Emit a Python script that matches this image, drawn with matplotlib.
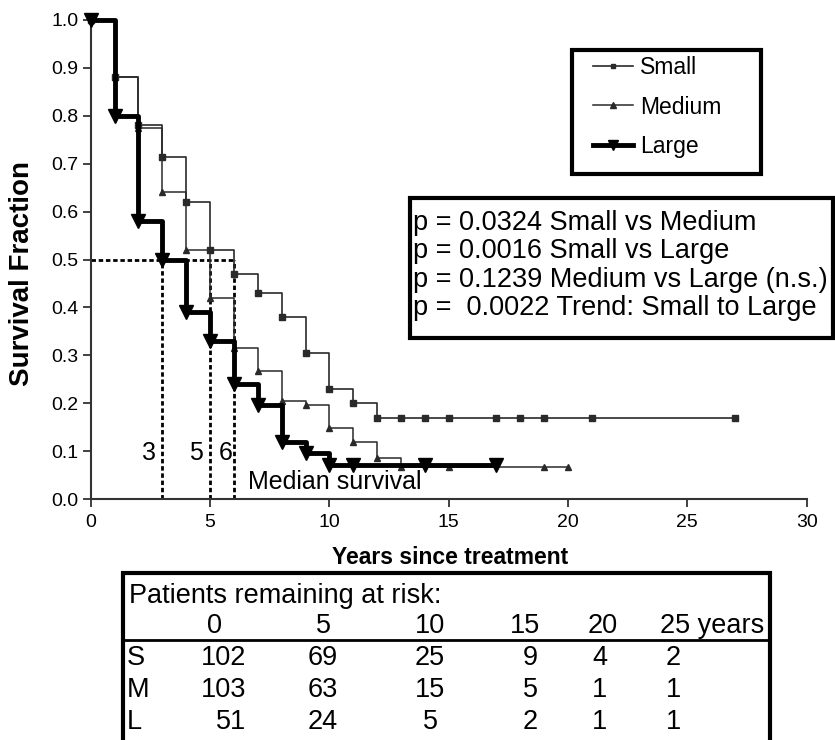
import matplotlib
matplotlib.use("Agg")
import matplotlib.pyplot as plt
from matplotlib.lines import Line2D
from matplotlib.patches import Rectangle

plt.rcParams['font.family'] = ['Liberation Sans', 'DejaVu Sans']

# ---- data ----
small_t = [0, 1, 2, 3, 4, 5, 6, 7, 8, 9, 10, 11, 12, 13, 14, 15, 17, 18, 19, 21, 27]
small_s = [1.0, 0.88, 0.78, 0.715, 0.62, 0.52, 0.47, 0.43, 0.38, 0.305, 0.23, 0.20, 0.17,
           0.17, 0.17, 0.17, 0.17, 0.17, 0.17, 0.17, 0.17]
medium_t = [0, 1, 2, 3, 4, 5, 6, 7, 8, 9, 10, 11, 12, 13, 15, 19, 20]
medium_s = [1.0, 0.88, 0.775, 0.64, 0.52, 0.42, 0.315, 0.268, 0.205, 0.197, 0.148, 0.118,
            0.086, 0.067, 0.067, 0.067, 0.067]
large_t = [0, 1, 2, 3, 4, 5, 6, 7, 8, 9, 10, 11, 14, 17]
large_s = [1.0, 0.80, 0.58, 0.50, 0.39, 0.33, 0.24, 0.197, 0.12, 0.097, 0.07, 0.07, 0.07, 0.07]

medians = [3, 5, 6]
median_labels = ["3", "5", "6"]

pvalue_lines = ["p = 0.0324 Small vs Medium",
                "p = 0.0016 Small vs Large",
                "p = 0.1239 Medium vs Large (n.s.)",
                "p =  0.0022 Trend: Small to Large"]

risk_years = ["0", "5", "10", "15", "20", "25 years"]
risk_groups = ["S", "M", "L"]
risk_small = [102, 69, 25, 9, 4, 2]
risk_medium = [103, 63, 15, 5, 1, 1]
risk_large = [51, 24, 5, 2, 1, 1]

W, H = 835, 740
fig = plt.figure(figsize=(W / 100, H / 100), dpi=100)

def fx(px):
    return px / W

def fy(py):
    return 1 - py / H

ax = fig.add_axes([fx(90.7), fy(499), fx(806.7) - fx(90.7), fy(20) - fy(499)])

# median dashed lines
dash = (0, (1.6, 1.0))
ax.plot([0, 6], [0.5, 0.5], color='black', lw=2, linestyle=dash, zorder=1)
for m in medians:
    ax.plot([m, m], [0, 0.5], color='black', lw=2, linestyle=dash, zorder=1)

ax.plot(small_t, small_s, drawstyle='steps-post', color='#2a2a2a', lw=1.2,
        marker='s', markersize=4, zorder=3, clip_on=False, label='Small')
ax.plot(medium_t, medium_s, drawstyle='steps-post', color='#2a2a2a', lw=1.1,
        marker='^', markersize=5, zorder=3, clip_on=False, label='Medium')
ax.plot(large_t, large_s, drawstyle='steps-post', color='black', lw=3.5,
        marker='v', markersize=10, zorder=4, clip_on=False, label='Large')

ax.set_xlim(0, 30)
ax.set_ylim(0, 1.0)
ax.set_xticks([0, 5, 10, 15, 20, 25, 30])
ax.set_yticks([i / 10 for i in range(11)])
ax.set_yticklabels([f"{i / 10:.1f}" for i in range(11)])
for s in ['top', 'right']:
    ax.spines[s].set_visible(False)
for s in ['left', 'bottom']:
    ax.spines[s].set_linewidth(1.5)
    ax.spines[s].set_color('#333333')
ax.tick_params(direction='out', length=6, width=1.3, color='#333333', labelsize=14, pad=3)
ax.tick_params(axis='x', pad=5)

# median annotations
label_pos = [(2.46, 0.096), (4.39, 0.096), (5.65, 0.096)]
for (x, y), lab in zip(label_pos, median_labels):
    ax.text(x, y, lab, fontsize=18, ha='center', va='center')
ax.text(6.58, 0.036, "Median survival", fontsize=18, ha='left', va='center')

# axis labels
fig.text(fx(22), fy(273), "Survival Fraction", rotation=90, fontsize=20,
         fontweight='bold', ha='center', va='center')
fig.text(fx(450), fy(557), "Years since treatment", fontsize=16.5,
         fontweight='bold', ha='center', va='center')

# legend
fig.add_artist(Rectangle((fx(571.7), fy(174)), fx(760.7) - fx(571.7), fy(50) - fy(174),
                         transform=fig.transFigure, fill=False, edgecolor='black', lw=3))
handles = [Line2D([], [], color='#2a2a2a', lw=1.2, marker='s', markersize=3),
           Line2D([], [], color='#2a2a2a', lw=1.1, marker='^', markersize=4),
           Line2D([], [], color='black', lw=3.5, marker='v', markersize=7)]
leg = ax.legend(handles, ['Small', 'Medium', 'Large'], loc='upper left',
                bbox_to_anchor=(fx(593), fy(56)), bbox_transform=fig.transFigure,
                frameon=False, borderaxespad=0, borderpad=0, fontsize=16.5,
                handlelength=1.75, handletextpad=0.3, labelspacing=0.72)

# p-value box
fig.add_artist(Rectangle((fx(410), fy(338.3)), fx(833) - fx(410), fy(198.3) - fy(338.3),
                         transform=fig.transFigure, fill=False, edgecolor='black', lw=3))
for i, line in enumerate(pvalue_lines):
    fig.text(fx(413), fy(223 + i * 28.4), line, fontsize=19.5, ha='left', va='center')

# risk table
fig.add_artist(Rectangle((fx(123.3), fy(760)), fx(770) - fx(123.3), fy(573.3) - fy(760),
                         transform=fig.transFigure, fill=False, edgecolor='black', lw=3,
                         clip_on=False))
fig.add_artist(Line2D([fx(123.3), fx(770)], [fy(640), fy(640)], transform=fig.transFigure,
                      color='black', lw=2))
fig.text(fx(129), fy(596), "Patients remaining at risk:", fontsize=19.5, ha='left', va='center')
col_x = [215, 323, 430, 525, 603, 675]
for cx, yr in zip(col_x, risk_years):
    if yr.startswith("25"):
        fig.text(fx(660), fy(626), yr, fontsize=19.5, ha='left', va='center')
    else:
        fig.text(fx(cx), fy(626), yr, fontsize=19.5, ha='center', va='center')
val_x = [246, 323, 430, 530, 600, 673]
rows_y = [658, 690, 721.7]
for ry, g, vals in zip(rows_y, risk_groups, [risk_small, risk_medium, risk_large]):
    fig.text(fx(127), fy(ry), g, fontsize=19.5, ha='left', va='center')
    for j, (vx, v) in enumerate(zip(val_x, vals)):
        if j == 0:
            fig.text(fx(vx), fy(ry), str(v), fontsize=19.5, ha='right', va='center')
        else:
            fig.text(fx(vx), fy(ry), str(v), fontsize=19.5, ha='center', va='center')

fig.savefig("out.png", dpi=100)
